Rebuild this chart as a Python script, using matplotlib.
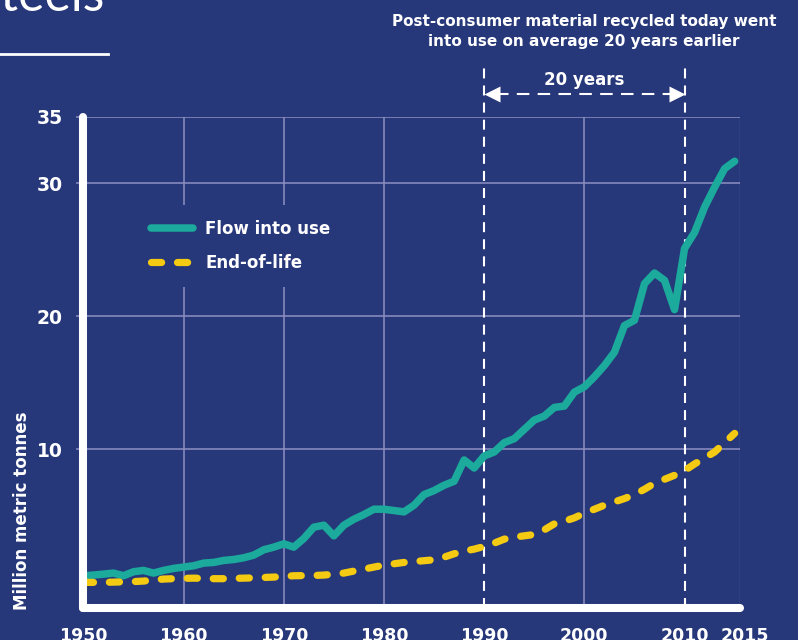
import numpy as np
import matplotlib
matplotlib.use("Agg")
import matplotlib.pyplot as plt
from matplotlib.transforms import ScaledTranslation

# --- data ---
years = list(range(1950, 2016))
flow_into_use = [0.5, 0.55, 0.62, 0.7, 0.5, 0.8, 0.9, 0.7, 0.9, 1.05,
                 1.15, 1.25, 1.45, 1.5, 1.65, 1.72, 1.85, 2.05, 2.45, 2.65,
                 2.9, 2.65, 3.3, 4.15, 4.3, 3.5, 4.3, 4.75, 5.1, 5.5,
                 5.5, 5.4, 5.3, 5.8, 6.6, 6.9, 7.3, 7.6, 9.2, 8.6,
                 9.5, 9.8, 10.5, 10.8, 11.5, 12.2, 12.5, 13.15, 13.25, 14.3,
                 14.7, 15.45, 16.3, 17.3, 19.3, 19.7, 22.45, 23.25, 22.7, 20.5,
                 25.1, 26.3, 28.2, 29.7, 31.1, 31.65]
end_of_life = [0.0, 0.0, 0.0, 0.02, 0.04, 0.06, 0.1, 0.18, 0.25, 0.28,
               0.3, 0.32, 0.3, 0.28, 0.28, 0.3, 0.32, 0.34, 0.37, 0.4,
               0.45, 0.5, 0.51, 0.52, 0.55, 0.62, 0.7, 0.85, 1.0, 1.15,
               1.3, 1.4, 1.5, 1.57, 1.63, 1.7, 1.9, 2.15, 2.35, 2.5,
               2.7, 2.95, 3.25, 3.4, 3.5, 3.6, 3.95, 4.4, 4.6, 4.85,
               5.2, 5.5, 5.8, 6.05, 6.3, 6.6, 7.0, 7.45, 7.75, 8.05,
               8.4, 8.9, 9.35, 9.8, 10.5, 11.2]
y_ticks = [10, 20, 30, 35]
x_tick_labels = ["1950", "1960", "1970", "1980", "1990", "2000", "2010", "2015"]
lag_start, lag_end = 1990, 2010

# --- style ---
BG = "#26377a"
GRID = "#8e8fc2"
TEAL = "#1baa9b"
YELLOW = "#f4cb12"
WHITE = "#ffffff"
plt.rcParams["font.family"] = ["DejaVu Sans"]
plt.rcParams["font.weight"] = "bold"

x_max = 2015.5
y_min, y_max = -1.9, 35

fig = plt.figure(figsize=(7.98, 6.40), dpi=100, facecolor=BG)
ax = fig.add_axes([0.1045, 0.0505, 0.8224, 0.7672], facecolor=BG)
ax.set_xlim(1950, x_max)
ax.set_ylim(y_min, y_max)

# grid (1990 / 2010 get white dashed markers instead)
for yv in y_ticks:
    ax.axhline(yv, color=GRID, lw=1.1, zorder=1)
for xv in [1960, 1970, 1980, 2000]:
    ax.axvline(xv, color=GRID, lw=1.1, zorder=1)
ax.axvline(x_max, color="#c9cae6", lw=0.8, zorder=1)

# series
ax.plot(years, flow_into_use, color=TEAL, lw=5.4, solid_capstyle="round",
        solid_joinstyle="round", label="Flow into use", zorder=4)
ax.plot(years, end_of_life, color=YELLOW, lw=5.2, linestyle=(0, (1.4, 2.2)),
        dash_capstyle="round", label="End-of-life", zorder=4)

# 20-year lag markers
y_top = 38.9
for xv in [lag_start, lag_end]:
    ax.plot([xv, xv], [y_min, y_top], color=WHITE, lw=1.5,
            linestyle=(0, (4.8, 3.4)), clip_on=False, zorder=3)
y_arr = 36.7
ax.plot([lag_start + 1.2, lag_end - 1.2], [y_arr, y_arr], color=WHITE, lw=1.5,
        linestyle=(0, (6, 4)), clip_on=False, zorder=3)
ax.plot([lag_start + 0.75], [y_arr], marker="<", ms=11, color=WHITE,
        mec="none", clip_on=False, zorder=3)
ax.plot([lag_end - 0.75], [y_arr], marker=">", ms=11, color=WHITE,
        mec="none", clip_on=False, zorder=3)
ax.text((lag_start + lag_end) / 2, 37.75, "20 years", color=WHITE,
        fontsize=12, ha="center", va="center")

fig.text(0.732, 1 - 31.5 / 640, "Post-consumer material recycled today went\n"
         "into use on average 20 years earlier", color=WHITE, fontsize=11,
         ha="center", va="center", linespacing=1.45)

# title fragment (cut by the top edge) + rule at top-left
fig.text(105 / 798, 1 - 11 / 640, "Steels", color=WHITE, fontsize=36,
         fontweight="normal", family=["Lato", "DejaVu Sans"],
         ha="right", va="baseline")
fig.add_artist(plt.Line2D([0, 108 / 798], [1 - 53.5 / 640] * 2,
                          color=WHITE, lw=2))

# axes / spines
for s in ["top", "right"]:
    ax.spines[s].set_visible(False)
for s in ["left", "bottom"]:
    ax.spines[s].set_color(WHITE)
    ax.spines[s].set_linewidth(5.8)
    ax.spines[s].set_capstyle("round")
    ax.spines[s].set_zorder(5)

ax.set_yticks(y_ticks)
ax.set_yticklabels([str(v) for v in y_ticks])
ax.set_xticks([1950, 1960, 1970, 1980, 1990, 2000, 2010, x_max])
ax.set_xticklabels(x_tick_labels)
ax.tick_params(axis="y", colors=GRID, length=5, width=1.1, pad=10,
               labelcolor=WHITE, labelsize=13.5)
ax.tick_params(axis="x", length=0, pad=14, labelcolor=WHITE, labelsize=12.5)
last = ax.get_xticklabels()[-1]
last.set_transform(last.get_transform() +
                   ScaledTranslation(5 / 100, 0, fig.dpi_scale_trans))

fig.text(22 / 798, 1 - 610 / 640, "Million metric tonnes", color=WHITE,
         fontsize=12, rotation=90, ha="center", va="bottom")

leg = ax.legend(loc="center left", bbox_to_anchor=(136 / 798, 1 - 246 / 640),
                bbox_transform=fig.transFigure, frameon=True, facecolor=BG,
                edgecolor="none", framealpha=1, fontsize=12, handlelength=2.5,
                handletextpad=0.75, labelspacing=0.95, borderpad=0.9,
                borderaxespad=0)
for t in leg.get_texts():
    t.set_color(WHITE)
leg.set_zorder(6)

fig.savefig("out.png", dpi=100, facecolor=BG)
